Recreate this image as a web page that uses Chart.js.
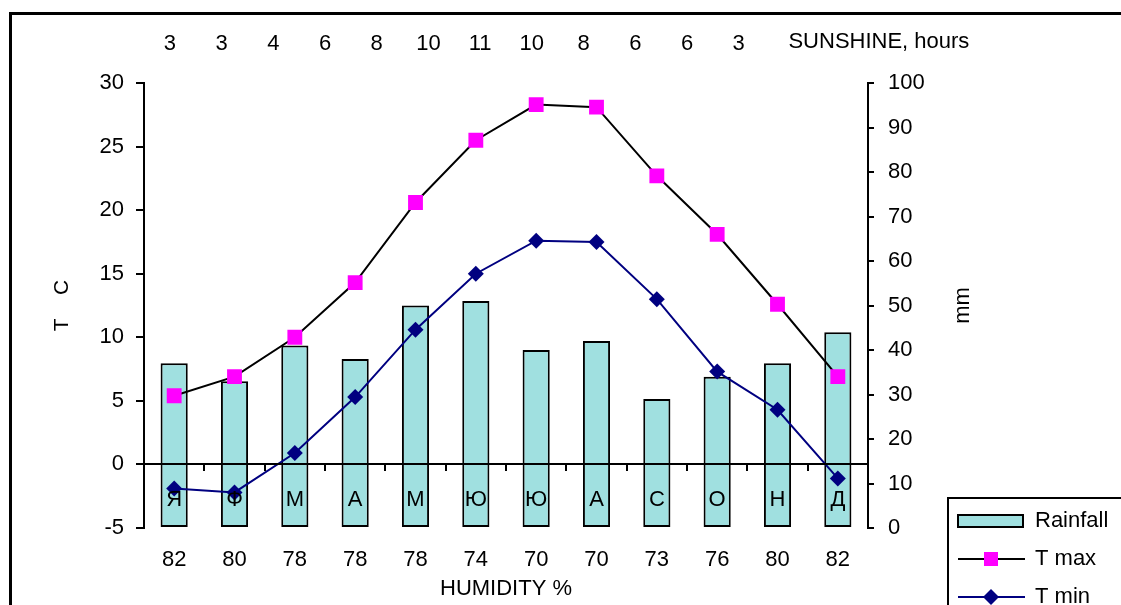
<!DOCTYPE html>
<html>
<head>
<meta charset="utf-8">
<script src="https://cdn.jsdelivr.net/npm/chart.js@4.4.1/dist/chart.umd.min.js"></script>
<style>
  html, body { margin: 0; padding: 0; background: #fff; overflow: hidden; }
  #wrap { position: relative; width: 1121px; height: 605px; overflow: hidden; }
  #frame { position: absolute; left: 9px; top: 12px; width: 1300px; height: 800px; border: 3px solid #000; box-sizing: border-box; }
  canvas { position: absolute; left: 0; top: 0; }
</style>
</head>
<body>
<div id="wrap">
  <div id="frame"></div>
  <canvas id="climate" width="1121" height="605"></canvas>
</div>
<script>
const months = ['Я','Ф','М','А','М','Ю','Ю','А','С','О','Н','Д'];
const rainfall = [37, 33, 41, 38, 50, 51, 40, 42, 29, 34, 37, 44];
const tMax = [5.4, 6.9, 10.0, 14.3, 20.6, 25.5, 28.3, 28.1, 22.7, 18.1, 12.6, 6.9];
const tMin = [-1.9, -2.2, 0.9, 5.3, 10.6, 15.0, 17.6, 17.5, 13.0, 7.3, 4.3, -1.1];
const humidity = ['82','80','78','78','78','74','70','70','73','76','80','82'];
const sunshine = ['3','3','4','6','8','10','11','10','8','6','6','3'];
// the sunshine row is set tighter than the months; two spare slots hold its caption
const sunshineSlots = sunshine.concat(['', '']);

const FONT = 'Arial, "Liberation Sans", sans-serif';
const SIZE = 22;
Chart.defaults.font.family = FONT;
Chart.defaults.font.size = SIZE;
Chart.defaults.color = '#000';

const SUN_PAD = 18;

// captions that are not axis ticks, and the boxed legend in the corner
const extras = {
  id: 'extras',
  afterDraw(chart) {
    const ctx = chart.ctx;
    const xs = chart.scales.xs;
    const y1 = chart.scales.y1;

    ctx.save();
    ctx.fillStyle = '#000';
    ctx.font = SIZE + 'px ' + FONT;
    ctx.textBaseline = 'middle';
    ctx.textAlign = 'left';
    const capX = xs.getPixelForValue(sunshine.length) - 2;
    ctx.fillText('SUNSHINE, hours', capX, xs.bottom - SUN_PAD - 23);

    ctx.translate(y1.right - 5, (y1.top + y1.bottom) / 2);
    ctx.rotate(-Math.PI / 2);
    ctx.textAlign = 'center';
    ctx.fillText('mm', 0, 0);
    ctx.restore();

    // legend
    const lx = chart.width - 173, ly = chart.height - 107;
    ctx.save();
    ctx.fillStyle = '#fff';
    ctx.strokeStyle = '#000';
    ctx.lineWidth = 2;
    ctx.fillRect(lx, ly, 300, 200);
    ctx.strokeRect(lx, ly, 300, 200);
    ctx.font = SIZE + 'px ' + FONT;
    ctx.textBaseline = 'middle';
    chart.data.datasets.forEach((ds, i) => {
      const cy = ly + 23 + i * 38;
      if (ds.type === 'line') {
        ctx.strokeStyle = ds.borderColor;
        ctx.lineWidth = 2;
        ctx.beginPath();
        ctx.moveTo(lx + 10, cy);
        ctx.lineTo(lx + 77, cy);
        ctx.stroke();
        ctx.fillStyle = ds.pointBackgroundColor;
        const mx = lx + 43;
        ctx.beginPath();
        if (ds.pointStyle === 'rect') {
          ctx.rect(mx - 7, cy - 7, 14, 14);
        } else {
          ctx.moveTo(mx, cy - 8); ctx.lineTo(mx + 8, cy);
          ctx.lineTo(mx, cy + 8); ctx.lineTo(mx - 8, cy);
          ctx.closePath();
        }
        ctx.fill();
      } else {
        ctx.fillStyle = ds.backgroundColor;
        ctx.strokeStyle = ds.borderColor;
        ctx.lineWidth = 2;
        ctx.fillRect(lx + 10, cy - 6, 65, 12);
        ctx.strokeRect(lx + 10, cy - 6, 65, 12);
      }
      ctx.fillStyle = '#000';
      ctx.fillText(ds.label, lx + 87, cy);
    });
    ctx.restore();
  }
};

const noRotate = { autoSkip: false, maxRotation: 0, minRotation: 0 };

new Chart(document.getElementById('climate'), {
  type: 'bar',
  data: {
    labels: months,
    datasets: [
      {
        label: 'Rainfall', data: rainfall, yAxisID: 'y1',
        backgroundColor: '#A0E0E0', borderColor: '#000', borderWidth: 2,
        borderSkipped: false, barPercentage: 0.45, categoryPercentage: 1, order: 3
      },
      {
        type: 'line', label: 'T max', data: tMax, yAxisID: 'y',
        borderColor: '#000', borderWidth: 2, tension: 0,
        pointStyle: 'rect', pointRadius: 10.5, pointBorderWidth: 0,
        pointBackgroundColor: '#FF00FF', order: 2
      },
      {
        type: 'line', label: 'T min', data: tMin, yAxisID: 'y',
        borderColor: '#000080', borderWidth: 2, tension: 0,
        pointStyle: 'rectRot', pointRadius: 8, pointBorderWidth: 0,
        pointBackgroundColor: '#000080', order: 1
      }
    ]
  },
  options: {
    responsive: false,
    animation: false,
    layout: { padding: { left: 50, right: 153, top: 20, bottom: 0 } },
    plugins: { legend: { display: false }, tooltip: { enabled: false } },
    scales: {
      x: {
        type: 'category', labels: humidity, position: 'bottom', offset: true,
        grid: { display: false }, border: { display: false },
        ticks: { padding: 11, ...noRotate },
        title: { display: true, text: 'HUMIDITY %', padding: { top: 0, bottom: 3 } },
        afterFit: s => { s.height = 77; }
      },
      xs: {
        type: 'category', labels: sunshineSlots, position: 'top', offset: true,
        grid: { display: false }, border: { display: false },
        ticks: { padding: SUN_PAD, ...noRotate },
        afterFit: s => { s.height = 63; }
      },
      xz: {
        type: 'category', labels: months, position: { y: 0 }, offset: true,
        grid: { offset: true, drawOnChartArea: false, drawTicks: true, tickLength: 6, color: '#000', lineWidth: 2, z: 1 },
        border: { display: true, color: '#000', width: 2, z: 1 },
        ticks: { padding: 16, z: 1, ...noRotate }
      },
      y: {
        position: 'left', min: -5, max: 30,
        ticks: { stepSize: 5, padding: 12 },
        grid: { drawOnChartArea: false, tickLength: 8, color: '#000', lineWidth: 2 },
        border: { color: '#000', width: 2 },
        title: { display: true, text: 'T\u00a0\u00a0\u00a0\u00a0C', font: { size: 21 }, padding: 0 },
        afterFit: s => { s.width = 94; }
      },
      y1: {
        position: 'right', min: 0, max: 100,
        ticks: { stepSize: 10, padding: 14 },
        grid: { drawOnChartArea: false, tickLength: 6, color: '#000', lineWidth: 2 },
        border: { color: '#000', width: 2 },
        afterFit: s => { s.width = 100; }
      }
    }
  },
  plugins: [extras]
});
</script>
</body>
</html>
